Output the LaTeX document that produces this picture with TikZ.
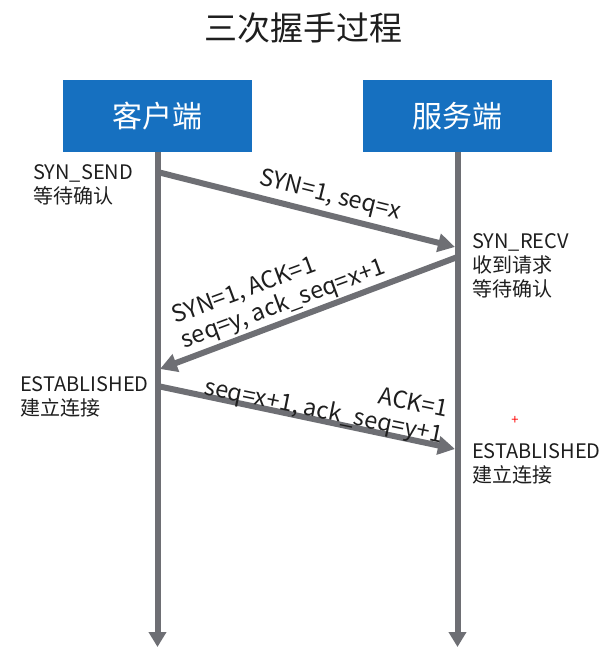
\documentclass[tikz,border=0pt]{standalone}
\usepackage{fontspec}
\setmainfont{Noto Sans CJK SC}
\usetikzlibrary{arrows.meta}
\definecolor{lgray}{RGB}{110,111,116}
\definecolor{boxblue}{RGB}{22,112,192}
\definecolor{ink}{RGB}{30,30,30}
\begin{document}
\begin{tikzpicture}[x=1pt,y=-1pt,
  hdr/.style={fill=boxblue, draw=none, minimum width=189pt, minimum height=72pt, text=white, font=\fontsize{30}{36}\selectfont, inner sep=0pt},
  life/.style={draw=lgray, line width=6pt, -{Triangle[width=17pt,length=15pt]}},
  msg/.style={draw=lgray, line width=6pt, -{Triangle[width=18pt,length=17pt]}},
  side/.style={anchor=west, align=left, text=ink, font=\fontsize{20}{24}\selectfont, inner sep=0pt},
  lbl/.style={text=ink, font=\fontsize{23.5}{26}\selectfont, inner sep=0pt}]
\path[use as bounding box, fill=white] (0,0) rectangle (606,653);

\node[text=ink, font=\fontsize{33}{40}\selectfont] (title) at (303,28) {三次握手过程};
\node[hdr] (cb) at (157.5,116) {客户端};
\node[hdr] (sb) at (457.5,116) {服务端};

\coordinate (cend) at (157.5,647);
\coordinate (send) at (457.5,647);
\draw[life] (cb.south) -- (cend);
\draw[life] (sb.south) -- (send);

\coordinate (m1s) at (157.5,172);
\coordinate (m1e) at (455,247);
\coordinate (m2s) at (457.5,257);
\coordinate (m2e) at (160,369);
\coordinate (m3s) at (157.5,386);
\coordinate (m3e) at (455,449);
\draw[msg] (m1s) -- (m1e);
\draw[msg] (m2s) -- (m2e);
\draw[msg] (m3s) -- (m3e);

\node[lbl, rotate=-14] (l1) at (330,196) {SYN=1, seq=x};
\node[lbl, rotate=20.3, align=left] (l2) at (279,293) {SYN=1, ACK=1\\seq=y, ack\_seq=x+1};
\node[lbl, rotate=-11.5, align=right] (l3) at (326,400) {ACK=1\\seq=x+1, ack\_seq=y+1};

\node[side] (ss) at (33,185) {SYN\_SEND\\等待确认};
\node[side] (sr) at (472,266) {SYN\_RECV\\收到请求\\等待确认};
\node[side] (ce) at (20,397) {ESTABLISHED\\建立连接};
\node[side] (se) at (472,464) {ESTABLISHED\\建立连接};
\node[text=red, font=\fontsize{13}{13}\selectfont, inner sep=0pt] (plus) at (515,420) {+};
\end{tikzpicture}
\end{document}
